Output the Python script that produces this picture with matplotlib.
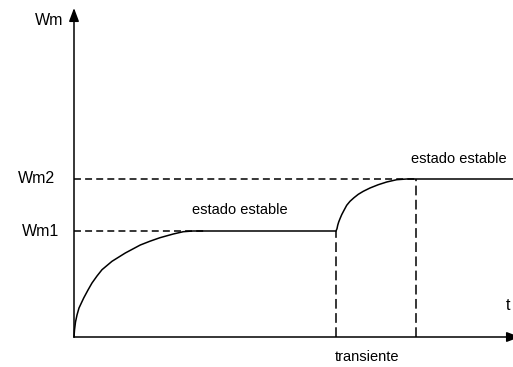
import matplotlib
matplotlib.use("Agg")
import matplotlib.pyplot as plt

plt.rcParams['font.family'] = ['Liberation Sans', 'DejaVu Sans']
plt.rcParams['lines.scale_dashes'] = False

# --- levels (arbitrary units) ---
wm1 = 1.06
wm2 = 1.58
t_step = 2.62      # start of the transient
t_settle = 3.42    # end of the transient
t_end = 4.39
w_top = 3.29

# first rise: 0 -> Wm1
rise1_t = [0.0, 0.005, 0.015, 0.03, 0.05, 0.097, 0.14, 0.18, 0.23, 0.28,
           0.38, 0.513, 0.663, 0.76, 0.86, 0.993, 1.093, 1.19, 1.32]
rise1_w = [0.0, 0.07, 0.15, 0.22, 0.29, 0.39, 0.47, 0.54, 0.61, 0.673,
           0.757, 0.84, 0.92, 0.958, 0.993, 1.03, 1.053, 1.06, 1.06]

# second rise: Wm1 -> Wm2
rise2_t = [2.62, 2.63, 2.637, 2.647, 2.66, 2.677, 2.70, 2.727, 2.76, 2.80,
           2.843, 2.893, 2.96, 3.043, 3.127, 3.227, 3.327, 3.42]
rise2_w = [1.06, 1.083, 1.117, 1.15, 1.183, 1.223, 1.267, 1.317, 1.357, 1.393,
           1.427, 1.457, 1.49, 1.523, 1.55, 1.573, 1.58, 1.58]

curve_t = rise1_t + [t_step] + rise2_t + [t_end]
curve_w = rise1_w + [wm1] + rise2_w + [wm2]

fig = plt.figure(figsize=(5.13, 3.67), dpi=100)
ax = fig.add_axes([0, 0, 1, 1])
ax.set_xlim(-0.74, 4.39)
ax.set_ylim(-0.30, 3.37)
ax.axis('off')

lw = 1.1
hdash = (0, (5.0, 3.0))
vdash = (0, (7.0, 3.2))
head = '-|>,head_length=0.8,head_width=0.3'

# axes with arrows
ax.annotate('', xy=(0, w_top), xytext=(0, 0),
            arrowprops=dict(arrowstyle=head, color='black', lw=lw,
                            mutation_scale=10, shrinkA=0, shrinkB=0))
ax.annotate('', xy=(t_end + 0.07, 0), xytext=(0, 0), annotation_clip=False,
            arrowprops=dict(arrowstyle=head, color='black', lw=lw,
                            mutation_scale=10, shrinkA=0, shrinkB=0))

# guide lines
ax.plot([0, rise1_t[-1]], [wm1, wm1], color='black', lw=lw, linestyle=hdash)
ax.plot([0, t_settle], [wm2, wm2], color='black', lw=lw, linestyle=hdash)
ax.plot([t_step, t_step], [0, wm1], color='black', lw=lw, linestyle=vdash)
ax.plot([t_settle, t_settle], [0, wm2], color='black', lw=lw, linestyle=vdash)

# response
ax.plot(curve_t, curve_w, color='black', lw=lw, solid_joinstyle='round')

# labels
ax.text(-0.11, 3.16, 'Wm', ha='right', va='center', fontsize=11.5)
ax.text(-0.19, wm2, 'Wm2', ha='right', va='center', fontsize=11.5)
ax.text(-0.15, wm1, 'Wm1', ha='right', va='center', fontsize=11.5)
ax.text(1.66, 1.27, 'estado estable', ha='center', va='center', fontsize=10.5)
ax.text(3.85, 1.78, 'estado estable', ha='center', va='center', fontsize=10.5)
ax.text(4.34, 0.32, 't', ha='center', va='center', fontsize=11.5)
ax.text(2.93, -0.20, 'transiente', ha='center', va='center', fontsize=10.5)

fig.savefig('out.png', dpi=100)
